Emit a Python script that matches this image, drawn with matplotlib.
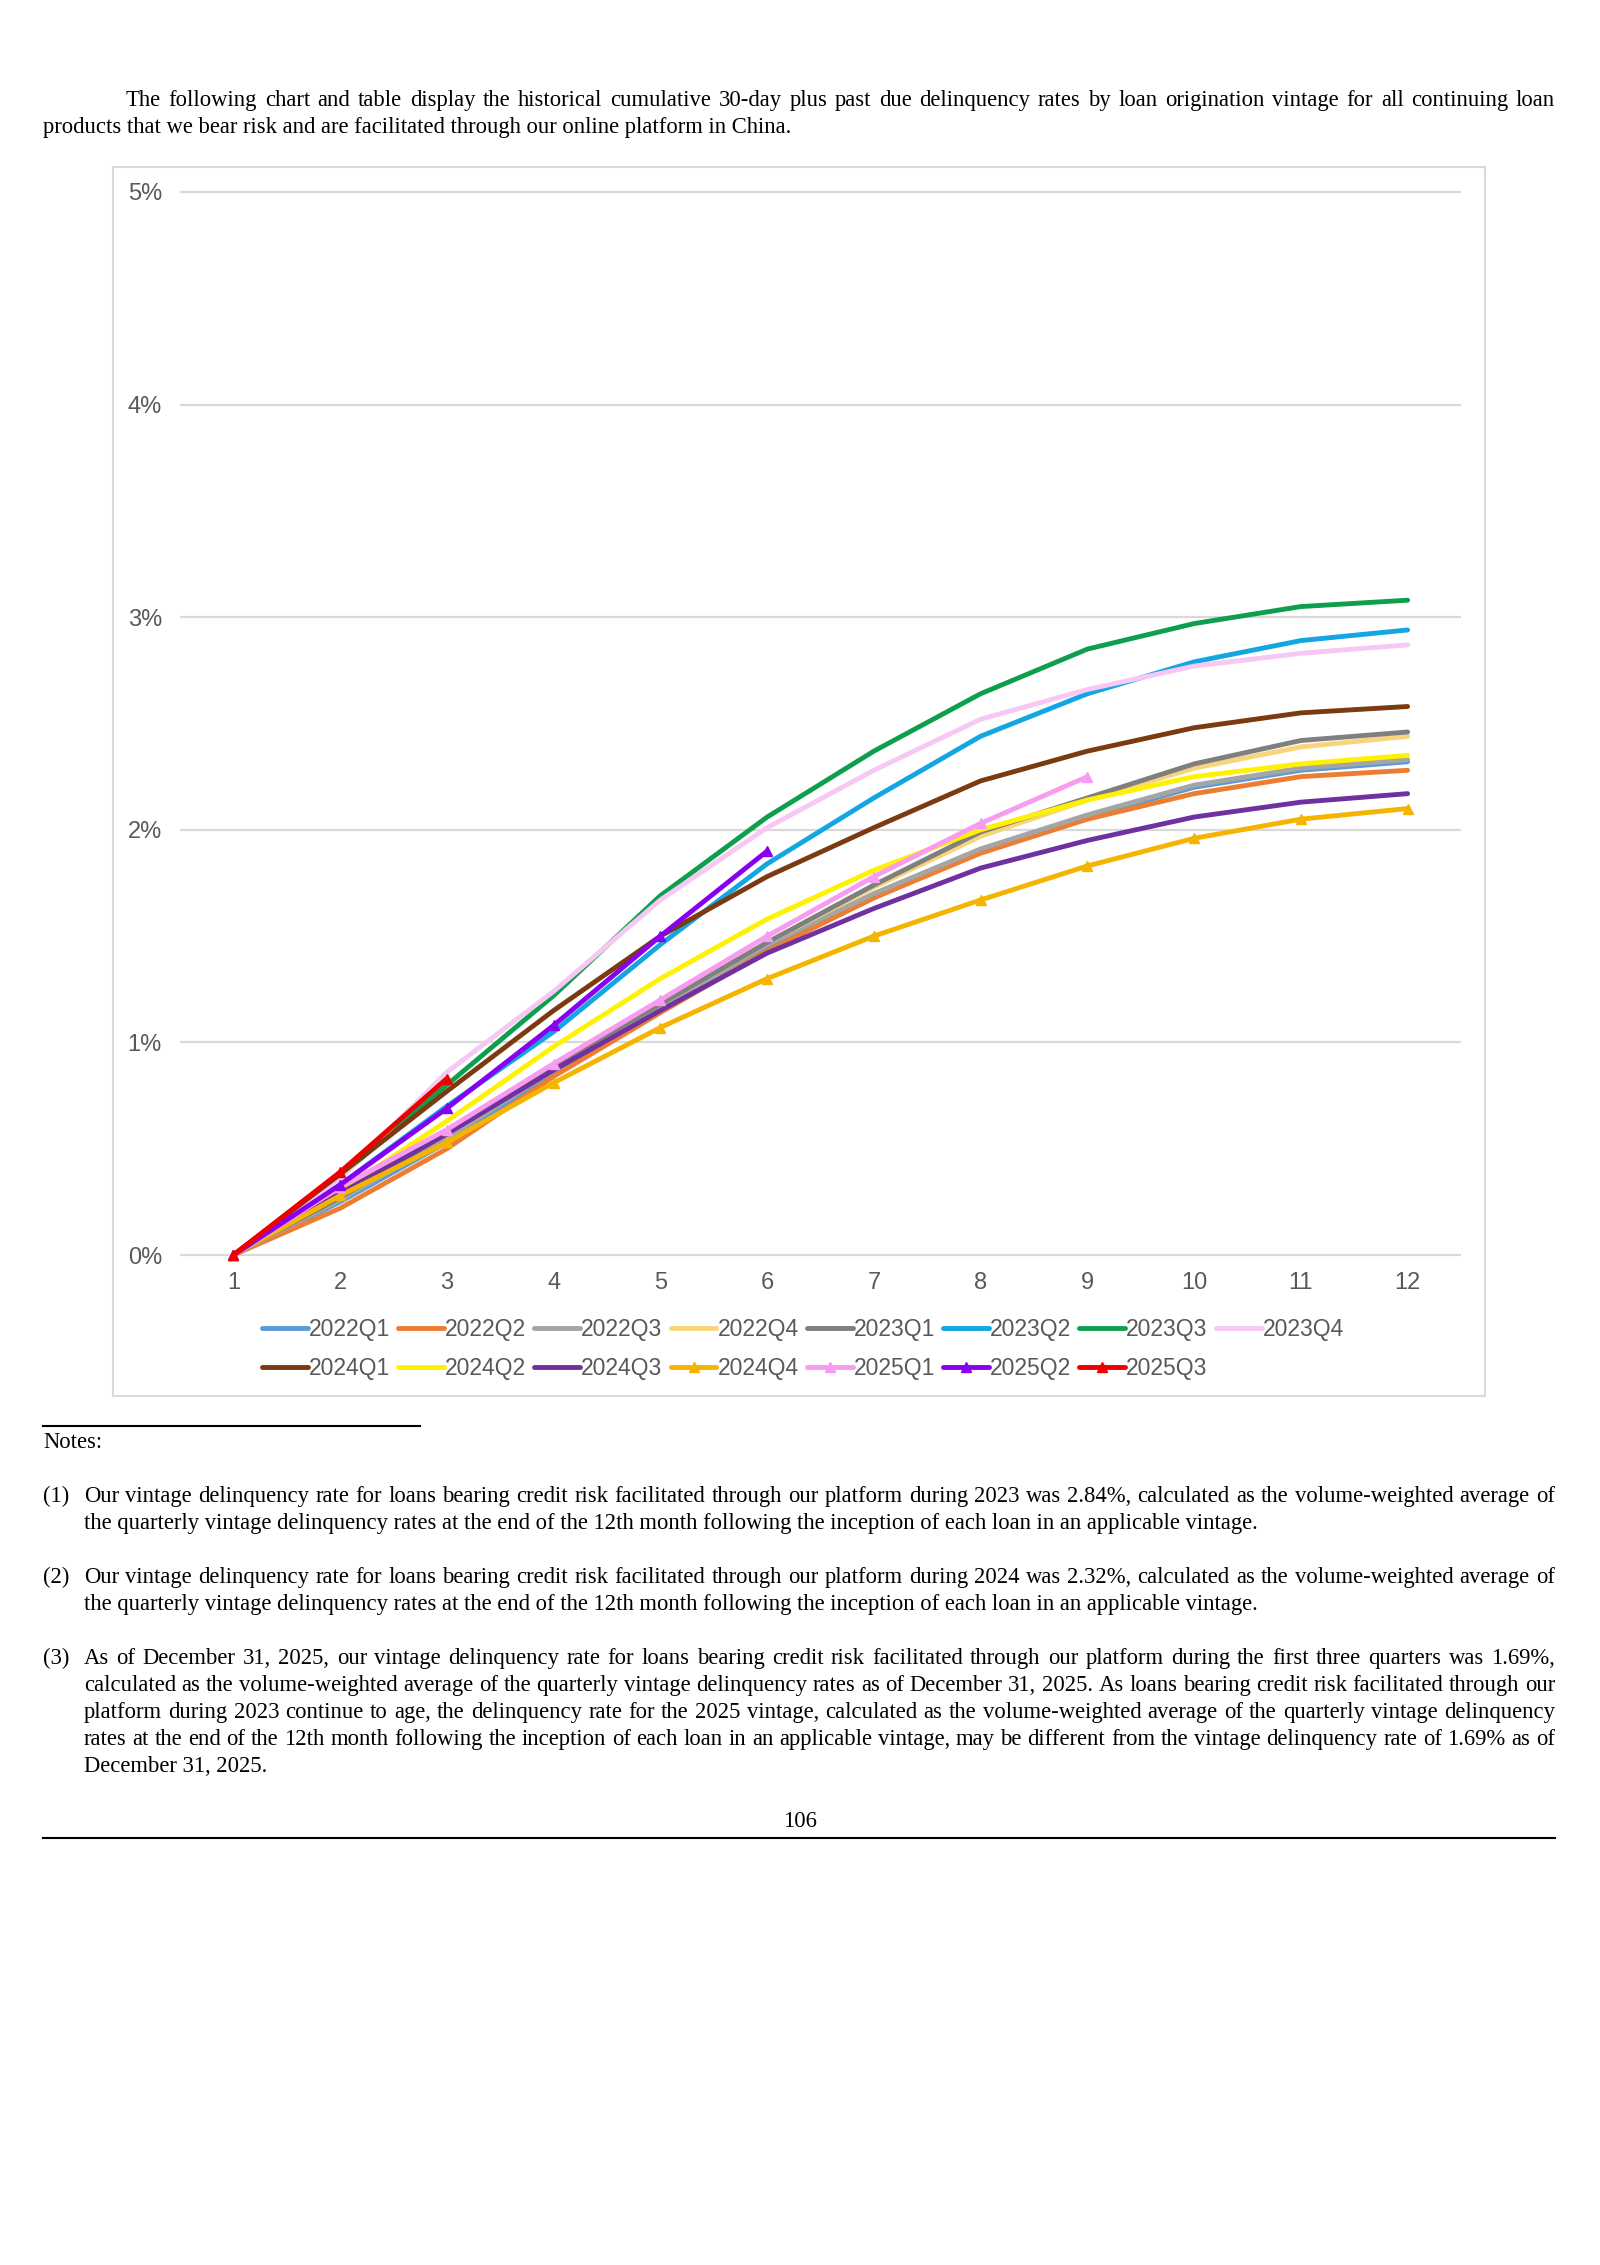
import matplotlib
matplotlib.use("Agg")
import matplotlib.pyplot as plt
from matplotlib.patches import Rectangle
from matplotlib.lines import Line2D

W, H = 1600, 2265

# months since origination
months = list(range(1, 13))

# cumulative 30+ day delinquency rate (%) by vintage
v2022q1 = [0, 0.25, 0.53, 0.86, 1.15, 1.44, 1.68, 1.90, 2.06, 2.20, 2.28, 2.32]
v2022q2 = [0, 0.22, 0.50, 0.84, 1.14, 1.43, 1.68, 1.89, 2.05, 2.17, 2.25, 2.28]
v2022q3 = [0, 0.26, 0.55, 0.87, 1.16, 1.46, 1.70, 1.91, 2.07, 2.21, 2.29, 2.33]
v2022q4 = [0, 0.27, 0.57, 0.89, 1.18, 1.47, 1.73, 1.97, 2.14, 2.29, 2.39, 2.44]
v2023q1 = [0, 0.27, 0.57, 0.89, 1.18, 1.47, 1.74, 1.99, 2.15, 2.31, 2.42, 2.46]
v2023q2 = [0, 0.33, 0.70, 1.05, 1.46, 1.84, 2.15, 2.44, 2.64, 2.79, 2.89, 2.94]
v2023q3 = [0, 0.37, 0.80, 1.22, 1.69, 2.06, 2.37, 2.64, 2.85, 2.97, 3.05, 3.08]
v2023q4 = [0, 0.36, 0.86, 1.24, 1.67, 2.01, 2.28, 2.52, 2.66, 2.77, 2.83, 2.87]
v2024q1 = [0, 0.38, 0.77, 1.15, 1.50, 1.78, 2.01, 2.23, 2.37, 2.48, 2.55, 2.58]
v2024q2 = [0, 0.30, 0.63, 0.98, 1.30, 1.58, 1.81, 2.00, 2.14, 2.25, 2.31, 2.35]
v2024q3 = [0, 0.29, 0.57, 0.87, 1.15, 1.42, 1.63, 1.82, 1.95, 2.06, 2.13, 2.17]
v2024q4 = [0, 0.28, 0.53, 0.81, 1.07, 1.30, 1.50, 1.67, 1.83, 1.96, 2.05, 2.10]
v2025q1 = [0, 0.32, 0.59, 0.90, 1.20, 1.50, 1.78, 2.03, 2.25]
v2025q2 = [0, 0.33, 0.69, 1.08, 1.50, 1.90]
v2025q3 = [0, 0.39, 0.83]

labels = ["2022Q1", "2022Q2", "2022Q3", "2022Q4", "2023Q1", "2023Q2", "2023Q3", "2023Q4",
          "2024Q1", "2024Q2", "2024Q3", "2024Q4", "2025Q1", "2025Q2", "2025Q3"]
series = [v2022q1, v2022q2, v2022q3, v2022q4, v2023q1, v2023q2, v2023q3, v2023q4,
          v2024q1, v2024q2, v2024q3, v2024q4, v2025q1, v2025q2, v2025q3]
colors = ["#5B9BD5", "#ED7D31", "#A5A5A5", "#F8D47A", "#7F7F7F", "#14A5E3", "#0E9F4E", "#F8C8F4",
          "#7B3A10", "#FFF200", "#7030A0", "#F5B400", "#F79CF0", "#8800F0", "#EE0000"]
markers = [None] * 11 + ["^", "^", "^", "^"]

yticks = [0, 1, 2, 3, 4, 5]

intro = [
    "The following chart and table display the historical cumulative 30-day plus past due delinquency rates by loan origination vintage for all continuing loan",
    "products that we bear risk and are facilitated through our online platform in China.",
]
note1 = [
    "Our vintage delinquency rate for loans bearing credit risk facilitated through our platform during 2023 was 2.84%, calculated as the volume-weighted average of",
    "the quarterly vintage delinquency rates at the end of the 12th month following the inception of each loan in an applicable vintage.",
]
note2 = [
    "Our vintage delinquency rate for loans bearing credit risk facilitated through our platform during 2024 was 2.32%, calculated as the volume-weighted average of",
    "the quarterly vintage delinquency rates at the end of the 12th month following the inception of each loan in an applicable vintage.",
]
note3 = [
    "As of December 31, 2025, our vintage delinquency rate for loans bearing credit risk facilitated through our platform during the first three quarters was 1.69%,",
    "calculated as the volume-weighted average of the quarterly vintage delinquency rates as of December 31, 2025. As loans bearing credit risk facilitated through our",
    "platform during 2023 continue to age, the delinquency rate for the 2025 vintage, calculated as the volume-weighted average of the quarterly vintage delinquency",
    "rates at the end of the 12th month following the inception of each loan in an applicable vintage, may be different from the vintage delinquency rate of 1.69% as of",
    "December 31, 2025.",
]

fig = plt.figure(figsize=(W / 100, H / 100), dpi=100)
renderer = fig.canvas.get_renderer()

body = dict(family="Liberation Serif", fontsize=16.3, color="black", va="baseline")


def fx(x):
    return x / W


def fy(y):
    return 1 - y / H


def put_line(text, x0, y, x1=None):
    # x1 given -> justify the line between x0 and x1
    if x1 is None:
        fig.text(fx(x0), fy(y), text, **body)
        return
    words = text.split()
    arts = [fig.text(0, 0, w, **body) for w in words]
    widths = [a.get_window_extent(renderer).width for a in arts]
    gap = (x1 - x0 - sum(widths)) / (len(words) - 1)
    x = x0
    for a, w in zip(arts, widths):
        a.set_position((fx(x), fy(y)))
        x += w + gap


def paragraph(lines, x0, y0, x1, step=27):
    for i, ln in enumerate(lines):
        last = i == len(lines) - 1
        put_line(ln, x0, y0 + i * step, None if last else x1)


RIGHT = 1555

# intro paragraph
put_line(intro[0], 126, 106, RIGHT)
put_line(intro[1], 43, 133)

# chart frame
fig.add_artist(Rectangle((fx(113), fy(1396)), (1485 - 113) / W, (1396 - 167) / H,
                         transform=fig.transFigure, fill=False, edgecolor="#D9D9D9", lw=1.5))

# axes: 0% at y=1255px, 5% at y=192px
ppu = (1255 - 192) / 5
y_lo, y_hi = -0.05, 5.05
ax_bottom = 1255 + (0 - y_lo) * ppu
ax_top = 192 - (y_hi - 5) * ppu
ax = fig.add_axes([fx(180), fy(ax_bottom), (1461 - 180) / W, (ax_bottom - ax_top) / H])

for vals, lab, col, mk in zip(series, labels, colors, markers):
    ax.plot(months[:len(vals)], vals, color=col, lw=3.5, marker=mk, markersize=7.5,
            label=lab, solid_capstyle="round", solid_joinstyle="round")

ax.set_xlim(0.5, 12.5)
ax.set_ylim(y_lo, y_hi)
ax.set_xticks(months)
ax.set_xticklabels([str(m) for m in months])
ax.set_yticks(yticks)
ax.set_yticklabels([f"{v}%" for v in yticks])
ax.tick_params(length=0, labelsize=17, labelcolor="#595959")
ax.tick_params(axis="y", pad=13)
ax.tick_params(axis="x", pad=4.5)
for lbl in ax.get_xticklabels() + ax.get_yticklabels():
    lbl.set_family("Liberation Sans")
ax.grid(axis="y", color="#D9D9D9", lw=1.6)
ax.set_axisbelow(True)
for s in ax.spines.values():
    s.set_visible(False)

# legend: row-major order in 8 columns
handles, labs = ax.get_legend_handles_labels()
order = []
for c in range(8):
    order.append(c)
    if c + 8 < len(labs):
        order.append(c + 8)
fig.legend([handles[i] for i in order], [labs[i] for i in order], ncol=8,
           loc="upper left", bbox_to_anchor=(fx(262), fy(1318)), frameon=False,
           prop={"family": "Liberation Sans", "size": 16.5}, labelcolor="#595959",
           handlelength=2.0, handletextpad=0.05, columnspacing=0.35,
           labelspacing=0.7, borderpad=0, borderaxespad=0)

# notes
fig.add_artist(Line2D([fx(43), fx(420)], [fy(1426), fy(1426)], color="black", lw=1.5))
put_line("Notes:", 43, 1448)

for tag, lines, y0 in [("(1)", note1, 1502), ("(2)", note2, 1583), ("(3)", note3, 1664)]:
    put_line(tag, 43, y0)
    paragraph(lines, 84, y0, RIGHT)

fig.text(fx(800), fy(1827), "106", ha="center", **body)
fig.add_artist(Line2D([fx(43), fx(RIGHT)], [fy(1838), fy(1838)], color="black", lw=1.5))

fig.savefig("out.png", dpi=100)
